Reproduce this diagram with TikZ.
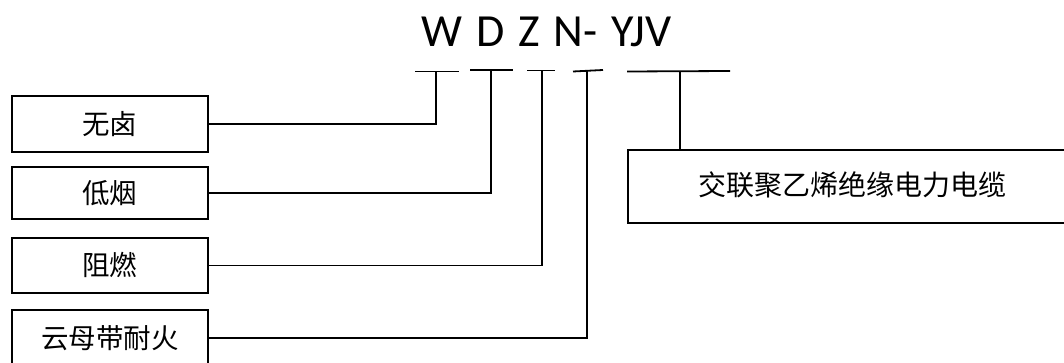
\documentclass[tikz,border=0pt]{standalone}
\usepackage{fontspec}
\setmainfont{Carlito}
\newfontfamily\cjk{Noto Sans CJK SC}
\begin{document}
\begin{tikzpicture}[x=1pt,y=-1pt,
  line width=1.8pt,
  lbox/.style={draw, line width=1.8pt, minimum width=196pt, inner sep=0pt, font=\cjk\fontsize{27.5}{29}\selectfont, anchor=north west},
  link/.style={draw, line width=1.8pt},
  uline/.style={draw, line width=1.8pt}]
\useasboundingbox (0,0) rectangle (1064,363);
\clip (0,0) rectangle (1064,363);
% title
\node[font=\fontsize{46}{50}\selectfont, anchor=base, inner sep=0pt] (title) at (546.5,47) {\spaceskip=13.8pt plus 0pt minus 0pt W D Z N- YJV};
% underlines
\coordinate (u1a) at (415,71.5); \coordinate (u1b) at (459,71.5); \coordinate (u1) at (436,71.5);
\coordinate (u2a) at (470,70);   \coordinate (u2b) at (513,70);   \coordinate (u2) at (491,70);
\coordinate (u3a) at (527,70.5); \coordinate (u3b) at (555,70.5); \coordinate (u3) at (542,70.5);
\coordinate (u4a) at (573,71.5); \coordinate (u4b) at (603,70);   \coordinate (u4) at (587,70.8);
\coordinate (u5a) at (627,71.5); \coordinate (u5b) at (730,71);   \coordinate (u5) at (680,71.3);
\draw[uline] (u1a) -- (u1b);
\draw[uline] (u2a) -- (u2b);
\draw[uline] (u3a) -- (u3b);
\draw[uline] (u4a) -- (u4b);
\draw[uline] (u5a) -- (u5b);
% left boxes
\node[lbox, minimum height=56pt] (b1) at (11,95)  {无卤};
\node[lbox, minimum height=52pt] (b2) at (11,166) {低烟};
\node[lbox, minimum height=55pt] (b3) at (11,237) {阻燃};
\node[lbox, minimum height=56pt] (b4) at (11,309) {云母带耐火};
% right box
\node[draw, line width=1.8pt, anchor=north west, minimum width=460pt, minimum height=73pt, inner sep=0pt] (rb) at (627,149) {};
\node[font=\cjk\fontsize{28}{30}\selectfont, inner sep=0pt] (rt) at (852,185) {交联聚乙烯绝缘电力电缆};
% connectors
\draw[link] (b1.east) -| (u1);
\draw[link] (b2.east) -| (u2);
\draw[link] (b3.east) -| (u3);
\draw[link] (b4.east) -| (u4);
\draw[link] (rb.north west) ++(53,0) coordinate (r5) -- (u5);
\end{tikzpicture}
\end{document}
